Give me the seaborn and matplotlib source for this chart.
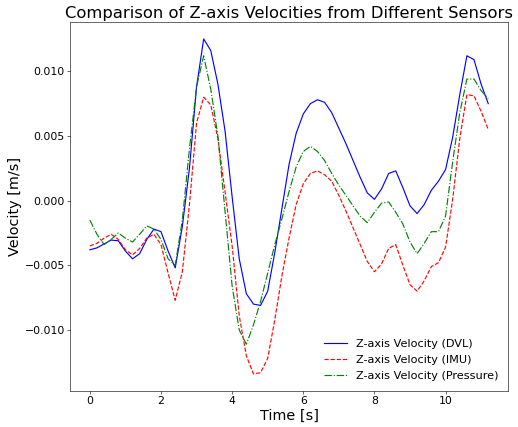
import numpy as np
import pandas as pd
import matplotlib
matplotlib.use('Agg')
import matplotlib.pyplot as plt
import seaborn as sns

# time axis [s]
time = np.round(np.arange(0, 11.21, 0.2), 1)

# velocities, in units of 1e-3 m/s
vz_dvl = [-3.8, -3.65, -3.35, -3.05, -3.1, -3.9, -4.5, -4.1, -3.0, -2.2,
          -2.4, -3.9, -5.2, -2.0, 2.5, 8.8, 12.5, 11.6, 9.0, 5.4,
          0.3, -4.5, -7.2, -8.0, -8.1, -7.0, -4.0, -0.6, 2.8, 5.2,
          6.7, 7.5, 7.8, 7.6, 6.8, 5.6, 4.4, 3.1, 1.8, 0.6,
          0.1, 0.9, 2.1, 2.3, 1.0, -0.4, -1.0, -0.3, 0.8, 1.5,
          2.4, 4.9, 8.2, 11.2, 10.9, 9.0, 7.5]
vz_imu = [-3.5, -3.3, -2.9, -2.6, -3.0, -3.8, -4.2, -3.7, -2.9, -2.6,
          -3.4, -5.6, -7.7, -5.5, -0.3, 6.0, 8.0, 7.4, 4.8, 0.7,
          -3.5, -8.9, -12.0, -13.4, -13.3, -12.2, -9.2, -5.8, -2.9, -0.3,
          1.3, 2.1, 2.3, 2.0, 1.5, 0.4, -0.8, -2.1, -3.4, -4.7,
          -5.5, -4.9, -3.7, -3.4, -5.0, -6.5, -7.0, -6.2, -5.1, -4.8,
          -3.6, 0.1, 4.8, 8.2, 8.1, 6.9, 5.5]
vz_pressure = [-1.5, -2.6, -3.4, -3.0, -2.5, -2.9, -3.2, -2.6, -1.95, -2.2,
               -3.0, -4.5, -5.0, -1.5, 4.0, 8.8, 11.2, 8.6, 5.0, -0.8,
               -6.6, -10.0, -11.1, -9.6, -7.8, -5.6, -3.4, -1.4, 0.7, 2.6,
               3.8, 4.2, 3.8, 3.1, 2.1, 1.2, 0.4, -0.4, -1.2, -1.7,
               -0.9, -0.2, -0.1, -0.9, -1.8, -3.2, -4.1, -3.3, -2.4, -2.4,
               -1.2, 3.0, 6.8, 9.4, 9.4, 8.5, 7.9]

df = pd.DataFrame({
    'time': time,
    'dvl': np.array(vz_dvl) / 1000,
    'imu': np.array(vz_imu) / 1000,
    'pressure': np.array(vz_pressure) / 1000,
})

# big figure drawn at low dpi -> 518x427 px
DPI = 51.8
fig, ax = plt.subplots(figsize=(518 / DPI, 427 / DPI), dpi=DPI)
fig.subplots_adjust(left=0.135, right=0.981, bottom=0.085, top=0.948)

sns.lineplot(data=df, x='time', y='dvl', ax=ax, color='b', linestyle='-',
             linewidth=1.6, label='Z-axis Velocity (DVL)')
sns.lineplot(data=df, x='time', y='imu', ax=ax, color='r', linestyle='--',
             linewidth=1.6, label='Z-axis Velocity (IMU)')
sns.lineplot(data=df, x='time', y='pressure', ax=ax, color='g', linestyle='-.',
             linewidth=1.6, label='Z-axis Velocity (Pressure)')

ax.set_title('Comparison of Z-axis Velocities from Different Sensors', fontsize=22.8)
ax.set_xlabel('Time [s]', fontsize=20)
ax.set_ylabel('Velocity [m/s]', fontsize=20)
ax.tick_params(labelsize=15.2)
ax.legend(loc='lower right', fontsize=15.6, frameon=False)

fig.savefig('out.png', dpi=DPI)
